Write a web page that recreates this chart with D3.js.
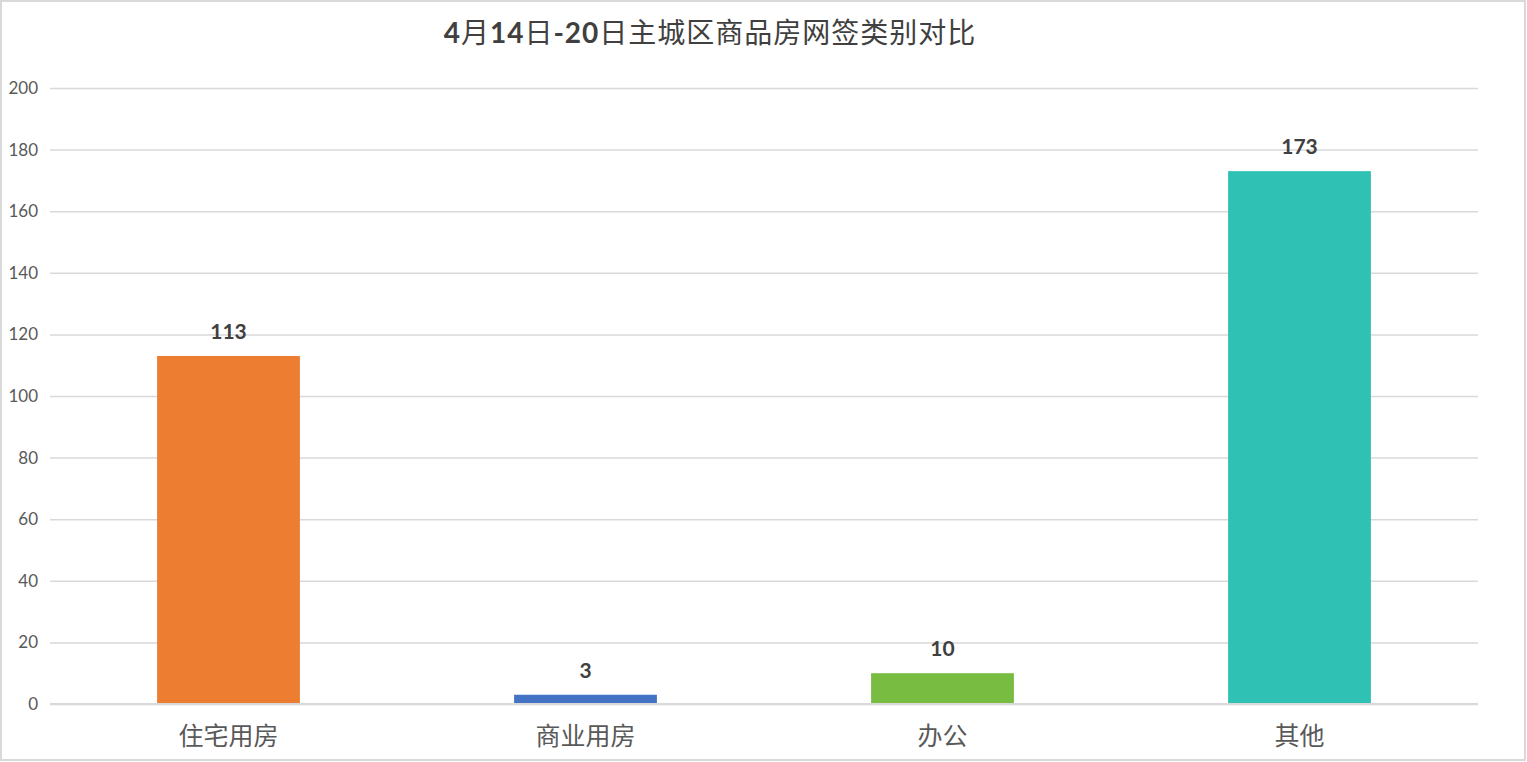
<!DOCTYPE html>
<html>
<head>
<meta charset="utf-8">
<script src="https://cdn.jsdelivr.net/npm/d3@7"></script>
<style>
  body { margin: 0; background: #fff; }
  svg { display: block; }
</style>
</head>
<body>
<svg></svg>
<script>
const categories = ["住宅用房", "商业用房", "办公", "其他"]
const values = [113, 3, 10, 173]
const colors = ["#ED7D31", "#4472C4", "#78BC42", "#2FC1B4"]
const yTicks = [0, 20, 40, 60, 80, 100, 120, 140, 160, 180, 200]

let svgWidth = 1527, svgHeight = 762
let margin = {top: 88, right: 49, bottom: 58, left: 50}

let svg = d3.select('svg')
    .attr('width', svgWidth)
    .attr('height', svgHeight)

// outer frame
svg.append('rect')
    .attr('x', 1).attr('y', 1)
    .attr('width', svgWidth - 3).attr('height', svgHeight - 3)
    .attr('fill', '#fff')
    .attr('stroke', '#d9d9d9')
    .attr('stroke-width', 2)

let x = d3.scaleBand()
    .domain(categories)
    .range([margin.left, svgWidth - margin.right])
    .paddingInner(0.6)
    .paddingOuter(0.3)

let y = d3.scaleLinear()
    .domain([0, 200])
    .range([svgHeight - margin.bottom, margin.top])

// gridlines
svg.append('g')
    .attr('transform', 'translate(' + margin.left + ',0)')
    .call(d3.axisLeft(y).tickValues(yTicks).tickSize(-(svgWidth - margin.left - margin.right)).tickFormat(''))
    .call(g => g.select('.domain').remove())
    .selectAll('line')
    .attr('stroke', '#d9d9d9')
    .attr('stroke-width', 1.5)

// y tick labels
svg.append('g')
    .attr('transform', 'translate(' + (margin.left - 12) + ',0)')
    .call(d3.axisLeft(y).tickValues(yTicks).tickSize(0).tickPadding(0))
    .call(g => g.select('.domain').remove())
    .selectAll('text')
    .attr('fill', '#595959')
    .style('font-family', 'Lato, "Open Sans", sans-serif')
    .style('font-size', '17px')

// bars
svg.selectAll('rect.bar')
    .data(values)
    .enter()
    .append('rect')
    .attr('class', 'bar')
    .attr('x', (d, i) => x(categories[i]))
    .attr('y', d => y(d))
    .attr('width', x.bandwidth())
    .attr('height', d => y(0) - y(d))
    .attr('fill', (d, i) => colors[i])

// baseline
svg.append('line')
    .attr('x1', margin.left).attr('x2', svgWidth - margin.right)
    .attr('y1', y(0)).attr('y2', y(0))
    .attr('stroke', '#d9d9d9')
    .attr('stroke-width', 2)

// value labels
svg.selectAll('text.value')
    .data(values)
    .enter()
    .append('text')
    .attr('class', 'value')
    .attr('x', (d, i) => x(categories[i]) + x.bandwidth() / 2)
    .attr('y', d => y(d) - 17)
    .attr('text-anchor', 'middle')
    .attr('fill', '#404040')
    .style('font-family', 'Lato, "Open Sans", sans-serif')
    .style('font-weight', 'bold')
    .style('font-size', '21px')
    .text(d => d)

// category labels
svg.selectAll('text.cat')
    .data(categories)
    .enter()
    .append('text')
    .attr('class', 'cat')
    .attr('x', d => x(d) + x.bandwidth() / 2)
    .attr('y', y(0) + 41)
    .attr('text-anchor', 'middle')
    .attr('fill', '#595959')
    .style('font-family', '"Noto Sans CJK SC", sans-serif')
    .style('font-size', '25px')
    .text(d => d)

// title: digits bold, hanzi regular
const titleParts = [["4", true], ["月", false], ["14", true], ["日", false], ["-20", true], ["日主城区商品房网签类别对比", false]]
let title = svg.append('text')
    .attr('x', 710)
    .attr('y', 43)
    .attr('text-anchor', 'middle')
    .attr('fill', '#404040')
    .style('font-size', '28px')
    .style('letter-spacing', '1px')
title.selectAll('tspan')
    .data(titleParts)
    .enter()
    .append('tspan')
    .style('font-family', d => d[1] ? 'Lato, "Open Sans", sans-serif' : '"Noto Sans CJK SC", sans-serif')
    .style('font-weight', d => d[1] ? 'bold' : 'normal')
    .text(d => d[0])
</script>
</body>
</html>
